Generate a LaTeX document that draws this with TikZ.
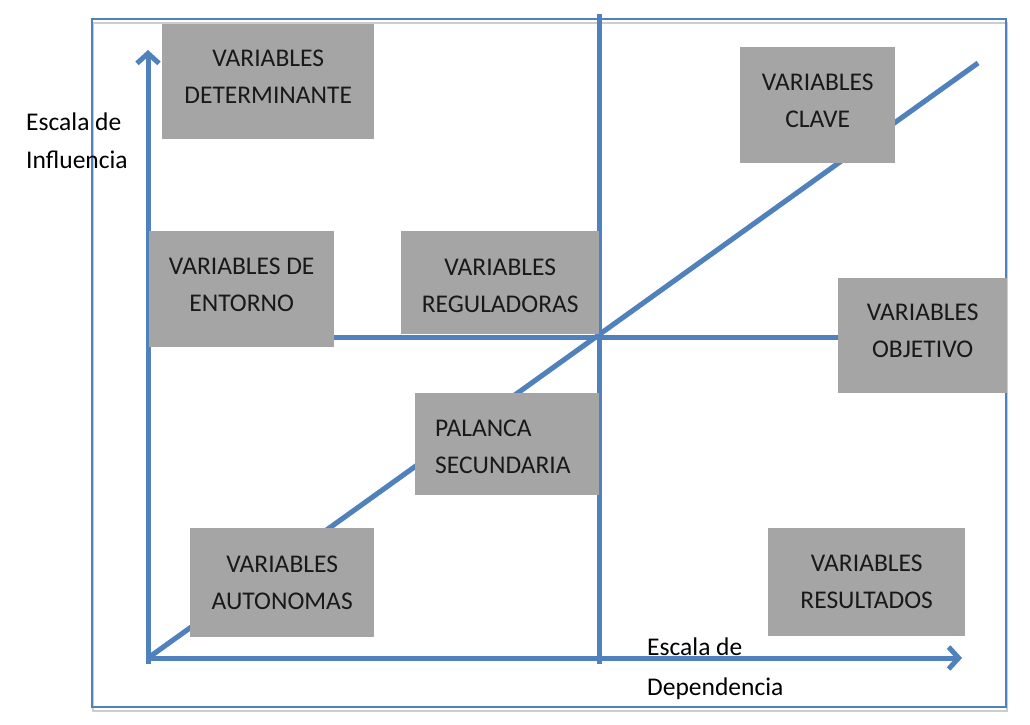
\documentclass[tikz,border=0pt]{standalone}
\usepackage{fontspec}
\setmainfont{Carlito}
\usetikzlibrary{arrows.meta,calc}
\definecolor{accblue}{RGB}{79,129,189}
\definecolor{boxgray}{RGB}{165,165,165}
\definecolor{shadowgray}{RGB}{205,205,205}
\newcommand\mystrut[1]{\rule{0pt}{#1}}
\tikzset{
  gboxbase/.style={fill=boxgray, draw=none, inner sep=0pt, anchor=north west, align=center,
    font=\fontsize{25.5}{37}\selectfont, text=black!90},
  gbox/.style={gboxbase, text depth=9pt},
  axisline/.style={draw=accblue, line width=5pt},
  shadowline/.style={draw=shadowgray, line width=5pt},
  axarrow/.style={-{Straight Barb[length=10pt,width=22pt,line width=5pt]}},
  axlabel/.style={align=left, anchor=north west, inner sep=0pt, font=\fontsize{25.5}{38}\selectfont}
}
\begin{document}
\begin{tikzpicture}[x=1pt,y=-1pt]
\useasboundingbox (0,0) rectangle (1030,724);
% frame
\draw[shadowgray, line width=2pt] (93,23) rectangle (1007,711);
\draw[accblue, line width=2pt] (92,19) rectangle (1006,707);
% coordinates
\coordinate (ybot) at (148,664);
\coordinate (ytop) at (148,50);
\coordinate (xbeg) at (148,658);
\coordinate (xend) at (962,658);
\coordinate (vtop) at (599,14);
\coordinate (vbot) at (599,664);
\coordinate (hbeg) at (148,337);
\coordinate (hend) at (840,337);
\coordinate (dbeg) at (148,658);
\coordinate (dend) at (978,63);
% shadows
\begin{scope}[shift={(1,3)}]
\draw[shadowline] (dbeg) -- (dend);
\draw[shadowline] (hbeg) -- (hend);
\draw[shadowline] (xbeg) -- ($(xend)+(-6,0)$);
\end{scope}
% lines
\draw[axisline] (vtop) -- (vbot);
\draw[axisline] (hbeg) -- (hend);
\draw[axisline] (dbeg) -- (dend);
\draw[axisline, axarrow] (ybot) -- (ytop);
\draw[axisline, axarrow] (xbeg) -- (xend);
% boxes
\node[gbox, minimum width=212pt, minimum height=115pt] (det) at (162,24) {VARIABLES\\DETERMINANTE};
\node[gbox, minimum width=155pt, minimum height=116pt] (cla) at (740,47) {VARIABLES\\CLAVE};
\node[gbox, minimum width=185pt, minimum height=116pt] (ent) at (149,231) {VARIABLES DE\\ENTORNO};
\node[gboxbase, minimum width=198pt, minimum height=103pt] (reg) at (401,231) {\mystrut{22pt}VARIABLES\\REGULADORAS};
\node[gbox, minimum width=169pt, minimum height=115pt] (obj) at (838,278) {VARIABLES\\OBJETIVO};
\node[gboxbase, minimum width=184pt, minimum height=102pt, align=left, text width=144pt] (pal) at (415,393) {\mystrut{21pt}PALANCA\\SECUNDARIA};
\node[gboxbase, minimum width=184pt, minimum height=109pt] (aut) at (190,528) {\mystrut{15pt}VARIABLES\\AUTONOMAS};
\node[gboxbase, minimum width=197pt, minimum height=108pt] (res) at (768,528) {\mystrut{15pt}VARIABLES\\RESULTADOS};
% axis labels
\node[axlabel] (infl) at (26,113) {Escala de\\Influencia};
\node[axlabel] (dep) at (647,638) {Escala de\\[2pt]Dependencia};
\end{tikzpicture}
\end{document}
